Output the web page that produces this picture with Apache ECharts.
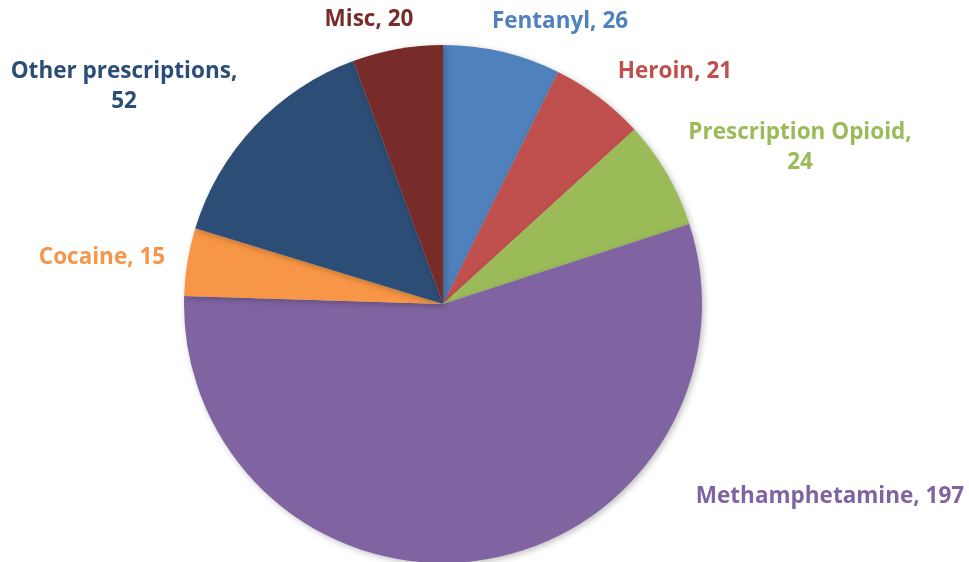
<!DOCTYPE html>
<html>
<head>
<meta charset="utf-8">
<script src="https://cdn.jsdelivr.net/npm/echarts@6/dist/echarts.min.js"></script>
<style>
  html, body { margin: 0; padding: 0; background: #fff; }
  #chart { width: 969px; height: 562px; }
</style>
</head>
<body>
<div id="chart"></div>
<script>
// data, clockwise from 12 o'clock
var categories = ['Fentanyl', 'Heroin', 'Prescription Opioid', 'Methamphetamine', 'Cocaine', 'Other prescriptions', 'Misc']
var values = [26, 21, 24, 197, 15, 52, 20]
var labelText = ['Fentanyl, 26', 'Heroin, 21', 'Prescription Opioid,\n24', 'Methamphetamine, 197', 'Cocaine, 15', 'Other prescriptions,\n52', 'Misc, 20']

var colors = ['#4f81bd', '#c0504d', '#9bbb59', '#8064a2', '#f79646', '#2c4d75', '#772c2a']
// where each label sits (centre), like the office chart
var labelPos = [[560, 22], [675, 72], [800, 148], [830, 497], [102, 258], [124, 87], [369, 20]]

var chart = echarts.init(document.getElementById('chart'))

chart.setOption({
  animation: false,
  color: colors,
  series: [{
    type: 'pie',
    center: [443, 304],
    radius: [0, 259],
    startAngle: 90,
    clockwise: true,
    data: categories.map(function (name, i) {
      return { name: name, value: values[i] }
    }),
    itemStyle: {
      borderWidth: 0,
      shadowBlur: 6,
      shadowOffsetX: 2,
      shadowOffsetY: 2,
      shadowColor: 'rgba(0,0,0,0.25)'
    },
    label: {
      show: true,
      position: 'outside',
      formatter: function (p) { return labelText[p.dataIndex] },
      color: 'inherit',
      fontFamily: 'Open Sans',
      fontWeight: 'bold',
      fontSize: 22.5,
      lineHeight: 30,
      align: 'center',
      overflow: 'none'
    },
    labelLine: { show: false },
    labelLayout: function (params) {
      var p = labelPos[params.dataIndex]
      return {
        x: p[0],
        y: p[1],
        align: 'center',
        verticalAlign: 'middle'
      }
    }
  }]
})
</script>
</body>
</html>
